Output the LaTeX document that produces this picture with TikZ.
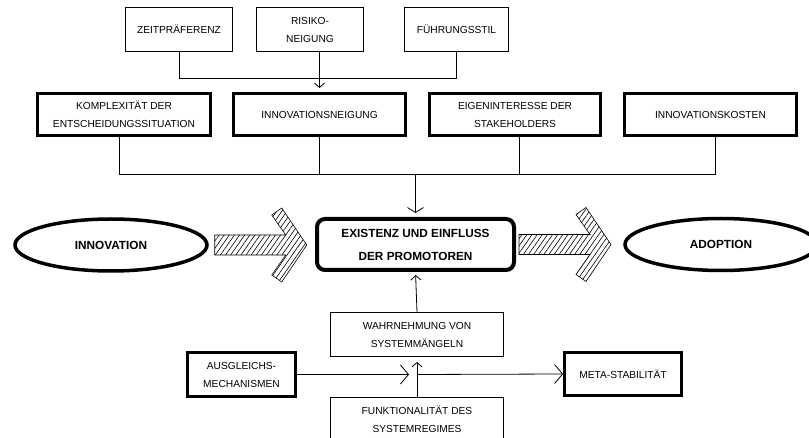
\documentclass[tikz,border=0pt]{standalone}
\usepackage{fontspec}
\setmainfont{Liberation Sans}
\usetikzlibrary{shapes,arrows.meta,positioning,patterns.meta}

\begin{document}
\begin{tikzpicture}[x=1pt,y=-1pt]
% Define node styles
\tikzstyle{factor} = [rectangle, draw, line width=0.8pt, align=center, inner sep=0pt, minimum height=44pt, font=\fontsize{10.2}{18}\selectfont]
\tikzstyle{mainfactor} = [factor, line width=2.8pt, minimum height=42pt]
\tikzstyle{promoter} = [rectangle, draw, rounded corners=8pt, line width=4pt, align=center, minimum width=197pt, minimum height=51pt, font=\fontsize{11.8}{23}\selectfont\bfseries]
\tikzstyle{phase} = [ellipse, draw, line width=3.5pt, minimum width=192pt, minimum height=52pt, inner sep=0pt, font=\fontsize{11.8}{14}\selectfont\bfseries]
\tikzstyle{link} = [line width=0.8pt]
\tikzstyle{flow} = [link, -{Straight Barb[length=4.5pt,width=10pt]}]
\tikzstyle{wideflow} = [link, -{Straight Barb[length=8pt,width=19pt]}]
\tikzstyle{hatcharrow} = [draw, line width=0.6pt, pattern={Lines[angle=55,distance=4.2pt,line width=0.6pt]}]

\clip (0,0) rectangle (809,438);

% Draw nodes
\node[factor, minimum width=107pt] (zeit) at (179,29.5) {ZEITPRÄFERENZ};
\node[factor, minimum width=107pt] (risiko) at (310,29.5) {RISIKO-\\NEIGUNG};
\node[factor, minimum width=104pt] (fuehr) at (456.5,29.5) {FÜHRUNGSSTIL};

\node[mainfactor, minimum width=173pt] (komplex) at (124,114.5) {KOMPLEXITÄT DER\\ENTSCHEIDUNGSSITUATION};
\node[mainfactor, minimum width=172pt] (innov) at (319.5,114.5) {INNOVATIONSNEIGUNG};
\node[mainfactor, minimum width=171pt] (eigen) at (515,114.5) {EIGENINTERESSE DER\\STAKEHOLDERS};
\node[mainfactor, minimum width=172pt] (kosten) at (710.5,114.5) {INNOVATIONSKOSTEN};

\node[phase] (innovation) at (111,245) {INNOVATION};
\node[promoter] (exist) at (415.5,244.5) {EXISTENZ UND EINFLUSS\\DER PROMOTOREN};
\node[phase] (adoption) at (721,244.5) {ADOPTION};

\node[factor, minimum width=173pt] (wahr) at (417,334.5) {WAHRNEHMUNG VON\\SYSTEMMÄNGELN};
\node[mainfactor, minimum width=108pt, minimum height=44pt] (ausgl) at (241.5,374.5) {AUSGLEICHS-\\MECHANISMEN};
\node[factor, minimum width=173pt] (funk) at (417,419) {FUNKTIONALITÄT DES\\SYSTEMREGIMES};
\node[mainfactor, minimum width=117pt, minimum height=43pt] (meta) at (623,374) {META-STABILITÄT};

\coordinate (bus) at ([yshift=-38pt]innov.south);
\coordinate (junc) at (funk.north |- ausgl.east);

% Draw edges
\draw[link] (zeit.south) -- ++(0,27) -| (fuehr.south);
\draw[flow, shorten >=4pt] (risiko.south -| innov.north) -- (innov.north);

\draw[link] ([xshift=-5pt]komplex.south) -- ++(0,38) -| ([xshift=4.5pt]kosten.south);
\draw[link] (innov.south) -- (bus);
\draw[link] ([xshift=4pt]eigen.south) -- ++(0,38);
\draw[link, -{Straight Barb[length=5pt,width=16pt]}, shorten >=4pt] (exist.north |- bus) -- (exist.north);

\draw[flow, shorten >=3pt] (wahr.north) -- (exist.south);
\draw[flow, shorten >=5pt] (funk.north) -- (wahr.south);
\draw[wideflow, shorten >=8pt] (ausgl.east) -- (junc);
\draw[wideflow] (junc) -- (meta.west);

% Draw hatched arrows
\draw[hatcharrow] ([shift={(6,-10)}]innovation.east) -- ++(71,0) -- ++(-14,-20) -- ++(10,-7) -- ++(25,37) -- ++(-25,37) -- ++(-10,-7) -- ++(14,-20) -- ++(-71,0) -- cycle;
\draw[hatcharrow] ([shift={(3,-10)}]exist.east) -- ++(71,0) -- ++(-14,-20) -- ++(10,-7) -- ++(25,37) -- ++(-25,37) -- ++(-10,-7) -- ++(14,-20) -- ++(-71,0) -- cycle;
\end{tikzpicture}
\end{document}
